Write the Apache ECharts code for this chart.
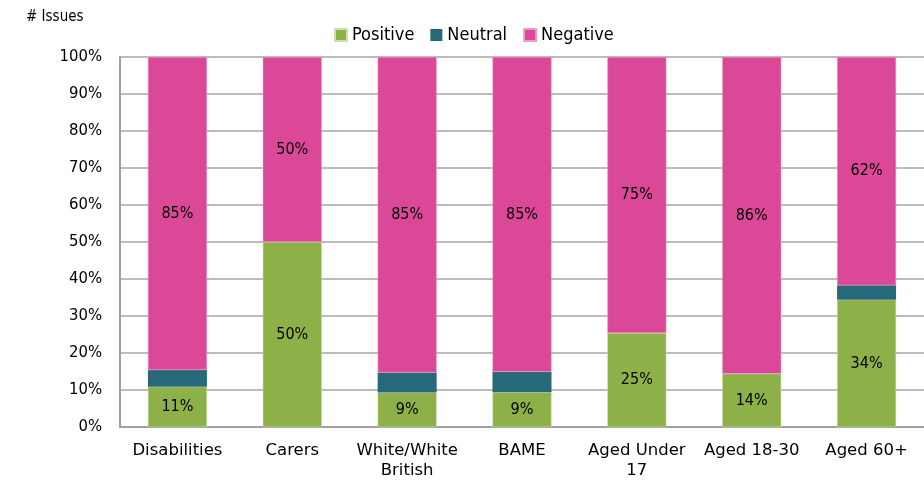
<!DOCTYPE html>
<html>
<head>
<meta charset="utf-8">
<script src="https://cdn.jsdelivr.net/npm/echarts@6/dist/echarts.min.js"></script>
<style>html,body{margin:0;padding:0;background:#fff;}#c{width:924px;height:483px;}</style>
</head>
<body>
<div id="c"></div>
<script>
const categories = ['Disabilities', 'Carers', 'White/White\nBritish', 'BAME', 'Aged Under\n17', 'Aged 18-30', 'Aged 60+'];
const positive = [10.9, 50, 9.3, 9.4, 25.4, 14.4, 34.4];
const neutral = [4.5, 0, 5.4, 5.5, 0, 0, 3.9];
const negative = [84.6, 50, 85.3, 85.1, 74.6, 85.6, 61.7];
const yTicks = [0, 10, 20, 30, 40, 50, 60, 70, 80, 90, 100];

const FONT = '"DejaVu Sans Condensed", "DejaVu Sans", sans-serif';
const FONT2 = '"DejaVu Sans", sans-serif';
const chart = echarts.init(document.getElementById('c'), null, {renderer: 'canvas'});
const lbl = {
  show: true, position: 'inside', color: '#000', fontFamily: FONT, fontSize: 16,
  formatter: p => Math.round(p.value) + '%'
};
chart.setOption({
  animation: false,
  backgroundColor: '#fff',
  title: {
    text: '# Issues', left: 21, top: 5,
    textStyle: {fontFamily: FONT, fontSize: 15, fontWeight: 'normal', color: '#000'}
  },
  legend: {
    top: 21, left: 329, itemWidth: 12, itemHeight: 12, itemGap: 16, icon: 'rect',
    textStyle: {fontFamily: FONT, fontSize: 18, color: '#000'},
    data: ['Positive', 'Neutral', 'Negative']
  },
  grid: {left: 120, right: 0, top: 57, bottom: 56, containLabel: false},
  xAxis: {
    type: 'category', data: categories,
    axisLine: {lineStyle: {color: '#a0a0a0', width: 2}},
    axisTick: {show: false},
    axisLabel: {fontFamily: FONT2, fontSize: 16.5, color: '#000', margin: 14, lineHeight: 20, interval: 0}
  },
  yAxis: {
    type: 'value', min: 0, max: 100, interval: 10,
    axisLine: {show: true, lineStyle: {color: '#a0a0a0', width: 2}},
    axisTick: {show: false},
    splitLine: {lineStyle: {color: '#a6a6a6', width: 1.5}},
    axisLabel: {fontFamily: FONT, fontSize: 16.5, color: '#000', margin: 18, formatter: '{value}%'}
  },
  series: [
    {name: 'Positive', type: 'bar', stack: 's', data: positive, barWidth: 59,
     itemStyle: {color: '#8DB048', borderColor: '#cfe0b0', borderWidth: 0.5}, label: lbl},
    {name: 'Neutral', type: 'bar', stack: 's', data: neutral, barWidth: 59,
     itemStyle: {color: '#27697B'}, label: {show: false}},
    {name: 'Negative', type: 'bar', stack: 's', data: negative, barWidth: 59,
     itemStyle: {color: '#DB4898', borderColor: '#ee9cc6', borderWidth: 0.5}, label: lbl}
  ]
});
</script>
</body>
</html>
